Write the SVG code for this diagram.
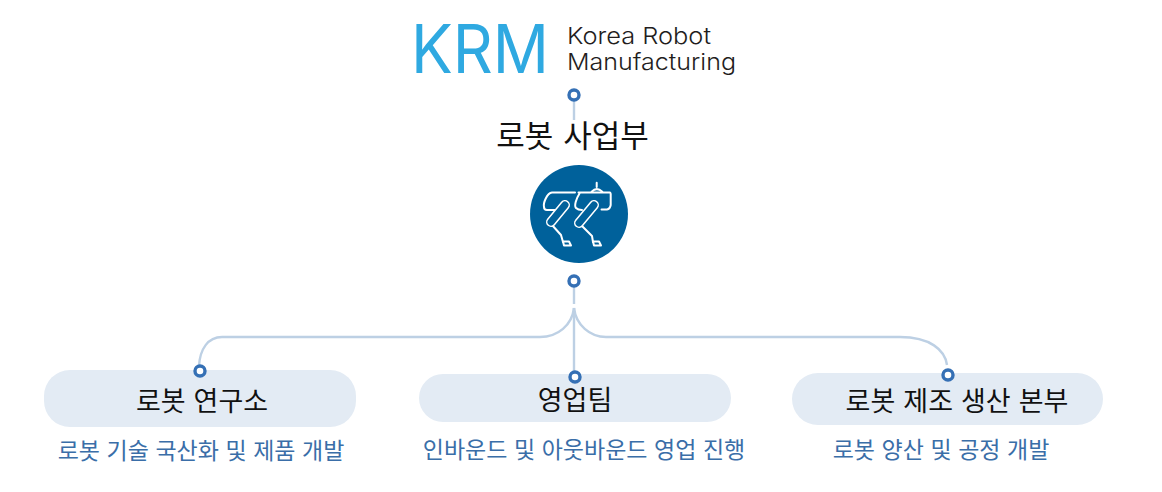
<svg xmlns="http://www.w3.org/2000/svg" width="1162" height="492" viewBox="0 0 1162 492">
<style>
.t{font-family:"Noto Sans CJK KR","Noto Sans",sans-serif;fill:#111;text-anchor:middle}
.h{font-size:27px;word-spacing:2px}
.s{font-size:23px;fill:#3a6ea8;word-spacing:1.4px}
.n{font-size:31px;word-spacing:3px}
.pill{fill:#e3ebf4}
.c{fill:none;stroke:#bdd0e4;stroke-width:2.4}
.d{fill:#fff;stroke:#3570b5;stroke-width:3.4}
.r{fill:none;stroke:#fff;stroke-width:2;stroke-linecap:round;stroke-linejoin:round}
.l{font-family:"Inter","Noto Sans",sans-serif;fill:#231d1d;font-size:23px;font-weight:300}
</style>
<g id="logo">
<text x="411" y="73" textLength="138" lengthAdjust="spacingAndGlyphs" style="font-family:Inter,'Noto Sans',sans-serif;font-size:67px;font-weight:400;fill:#2fa9e1">KRM</text>
<text class="l" x="567" y="44" textLength="144" lengthAdjust="spacingAndGlyphs">Korea Robot</text>
<text class="l" x="567" y="70" textLength="169" lengthAdjust="spacingAndGlyphs">Manufacturing</text>
</g>
<g id="connectors">
<path class="c" d="M574 96V120"/>
<path class="c" d="M574 281V304"/>
<path class="c" d="M574 308V376"/>
<path class="c" d="M574 308C572 325 558 337 540 337H222C208 337 200 349 199 366"/>
<path class="c" d="M574 308C576 325 590 337 606 337H900C930 337 945 350 947 365"/>
</g>
<g id="root">
<text class="t n" x="572.5" y="147">로봇 사업부</text>
<circle class="d" cx="574" cy="95" r="5"/>
</g>
<g id="robot">
<circle cx="579" cy="214" r="49" fill="#00619b"/>
<g class="r">
<path d="M575 192.5H552C547 193 543 203 544 207Q544 210 547 210H555"/>
<path d="M578.5 192.5H610Q610.7 193 610.7 194V205Q610 209 607 209.5H601.5"/>
<path d="M579.5 193.5C576 199 574 206 576 208Q578 210 582 210"/>
<path d="M591.7 191.7Q596.7 186.5 602.3 191.7M596.7 187V182.7"/>
<path d="M565 205L551 222" stroke-width="10"/>
<path d="M594 205L579 223" stroke-width="10"/>
<path d="M552 225L561 235L563 242"/>
<path d="M581 225L592 236L593 242"/>
<path d="M563 241.5H569L571 245.5H564Z"/>
<path d="M593 241.5H599L601 245.5H594Z"/>
</g>
<path d="M565 205L551 222M594 205L579 223" fill="none" stroke="#00619b" stroke-width="7" stroke-linecap="round"/>
<circle class="d" cx="574" cy="281" r="5"/>
</g>
<g id="lab">
<rect class="pill" x="44" y="370" width="312" height="57" rx="26"/>
<text class="t h" x="202" y="411">로봇 연구소</text>
<text class="t s" x="201" y="459">로봇 기술 국산화 및 제품 개발</text>
<circle class="d" cx="200" cy="371" r="5"/>
</g>
<g id="sales">
<rect class="pill" x="419" y="374" width="312" height="48" rx="24"/>
<text class="t h" x="575" y="410">영업팀</text>
<text class="t s" x="584" y="458">인바운드 및 아웃바운드 영업 진행</text>
<circle class="d" cx="575" cy="377" r="5"/>
</g>
<g id="factory">
<rect class="pill" x="792" y="373" width="311" height="52" rx="26"/>
<text class="t h" x="957" y="411">로봇 제조 생산 본부</text>
<text class="t s" x="941" y="458">로봇 양산 및 공정 개발</text>
<circle class="d" cx="948" cy="375" r="5"/>
</g>
</svg>
